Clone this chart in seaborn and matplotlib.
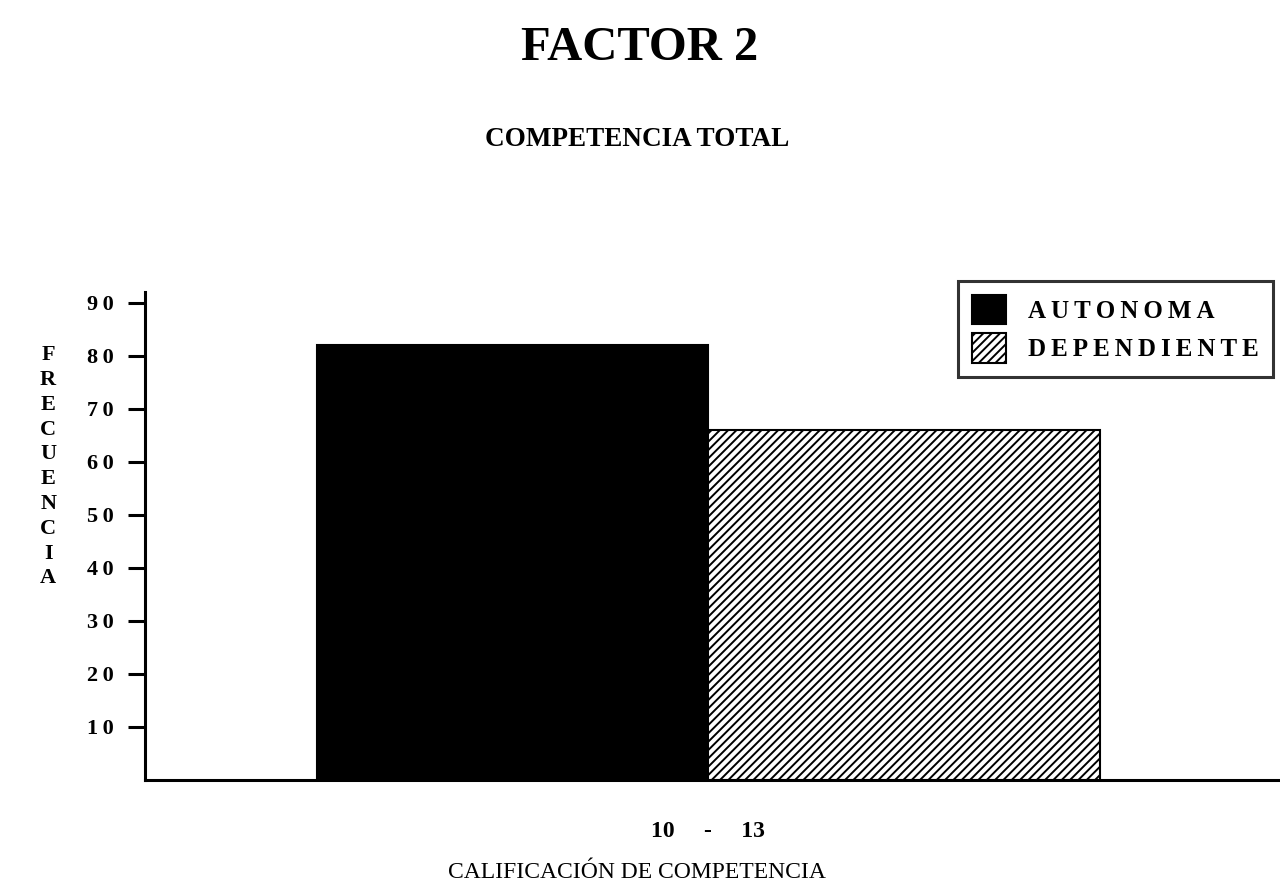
import pandas as pd
import matplotlib.pyplot as plt
import seaborn as sns

# =========================
# DATA
# =========================

rangos = ["10     -     13", "10     -     13"]
grupos = ["AUTONOMA", "DEPENDIENTE"]
frecuencias = [82, 66]
y_ticks = [10, 20, 30, 40, 50, 60, 70, 80, 90]

df = pd.DataFrame({"rango": rangos, "grupo": grupos, "frecuencia": frecuencias})

# spaced-out lettering like the typewriter-era original
def espaciar(texto):
    return "\u2009".join(texto)

# =========================
# STYLE
# =========================

sns.set_style("white")
plt.rcParams["font.family"] = ["Liberation Serif", "DejaVu Serif"]
plt.rcParams["text.color"] = "black"
plt.rcParams["axes.labelcolor"] = "black"
plt.rcParams["xtick.color"] = "black"
plt.rcParams["ytick.color"] = "black"
plt.rcParams["hatch.linewidth"] = 1.4
plt.rcParams["hatch.color"] = "black"

fig = plt.figure(figsize=(12.8, 8.91), dpi=100)
ax = fig.add_axes([0.113, 0.125, 0.887, 0.547])

sns.barplot(
    data=df,
    x="rango",
    y="frecuencia",
    hue="grupo",
    palette=["black", "white"],
    edgecolor="black",
    linewidth=1.5,
    saturation=1,
    width=1.0,
    ax=ax
)

for bar in ax.containers[1]:
    bar.set_hatch("////")

# =========================
# AXES
# =========================

ax.set_xlim(-0.72, 0.73)
ax.set_ylim(0, 92)
ax.set_yticks(y_ticks)
ax.set_yticklabels([espaciar(str(t)) for t in y_ticks], fontsize=16, fontweight="bold")
ax.tick_params(axis="y", direction="out", length=12, width=2.2, pad=10, left=True)
ax.tick_params(axis="x", length=0, pad=30)
for lbl in ax.get_xticklabels():
    lbl.set_fontsize(17)
    lbl.set_fontweight("bold")

sns.despine(ax=ax, top=True, right=True)
ax.spines["left"].set_linewidth(2.2)
ax.spines["bottom"].set_linewidth(2.2)
ax.spines["left"].set_color("black")
ax.spines["bottom"].set_color("black")

ax.set_xlabel("CALIFICACIÓN DE COMPETENCIA", fontsize=17)
ax.xaxis.set_label_coords((637 - 145) / 1135, -0.17)
ax.set_ylabel("\n".join("FRECUENCIA"), rotation=0, fontsize=16,
              fontweight="bold", linespacing=1.32, va="center")
ax.yaxis.set_label_coords(-0.085, 0.642)

# =========================
# LEGEND
# =========================

if ax.get_legend() is not None:
    ax.get_legend().remove()

leg = fig.legend(
    handles=[ax.containers[0], ax.containers[1]],
    labels=[espaciar(g) for g in grupos],
    loc="upper left",
    bbox_to_anchor=(958 / 1280, 1 - 281 / 891),
    frameon=True,
    fancybox=False,
    prop={"family": "Liberation Serif", "weight": "bold", "size": 18},
    handlelength=1.35,
    handleheight=1.45,
    handletextpad=0.9,
    borderpad=0.55,
    labelspacing=0.35,
    borderaxespad=0,
)
leg.get_frame().set_edgecolor("black")
leg.get_frame().set_linewidth(2.2)

# =========================
# TITLES
# =========================

fig.text(0.5, 1 - 48 / 891, "FACTOR 2", ha="center", va="center",
         fontsize=35, fontweight="bold")
fig.text(0.498, 1 - 140 / 891, "COMPETENCIA TOTAL", ha="center", va="center",
         fontsize=19.5, fontweight="bold")

plt.savefig("out.png", dpi=100)
